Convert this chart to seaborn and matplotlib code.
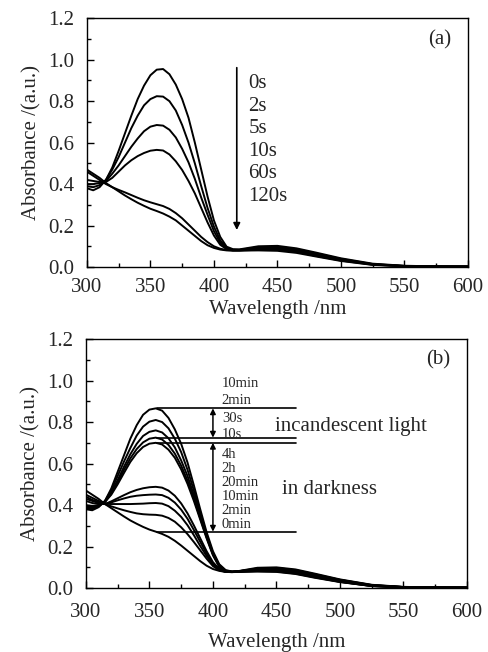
import numpy as np
import pandas as pd
import matplotlib
matplotlib.use('Agg')
import matplotlib.pyplot as plt
import seaborn as sns
from matplotlib.ticker import MultipleLocator, FormatStrFormatter

# wavelength grid (nm)
wl = [300, 305, 310, 315, 320, 325, 330, 335, 340, 345, 350, 355, 360, 365, 370,
      375, 380, 385, 390, 395, 400, 405, 410, 415, 420,
      435, 450, 465, 480, 500, 525, 550, 575, 600]

# ---- panel (a): UV irradiation time ----
a_labels = ['0s', '2s', '5s', '10s', '60s', '120s']
a_0s = [0.38, 0.37, 0.385, 0.42, 0.48, 0.56, 0.645, 0.73, 0.81, 0.875, 0.925, 0.952, 0.955, 0.93, 0.88,
        0.81, 0.72, 0.60, 0.47, 0.34, 0.225, 0.145, 0.098, 0.086, 0.085,
        0.10, 0.102, 0.09, 0.07, 0.042, 0.016, 0.006, 0.003, 0.002]
a_2s = [0.39, 0.385, 0.395, 0.42, 0.47, 0.53, 0.60, 0.67, 0.73, 0.78, 0.81, 0.824, 0.822, 0.80, 0.755,
        0.685, 0.60, 0.50, 0.39, 0.285, 0.195, 0.128, 0.092, 0.083, 0.083,
        0.095, 0.097, 0.086, 0.066, 0.039, 0.014, 0.005, 0.003, 0.002]
a_5s = [0.40, 0.40, 0.405, 0.415, 0.45, 0.49, 0.535, 0.58, 0.62, 0.655, 0.677, 0.685, 0.682, 0.662, 0.625,
        0.57, 0.505, 0.425, 0.335, 0.252, 0.173, 0.117, 0.088, 0.082, 0.082,
        0.09, 0.092, 0.082, 0.062, 0.036, 0.013, 0.005, 0.003, 0.002]
a_10s = [0.42, 0.415, 0.41, 0.41, 0.43, 0.46, 0.49, 0.515, 0.535, 0.55, 0.561, 0.565, 0.562, 0.543, 0.51,
         0.468, 0.415, 0.355, 0.285, 0.215, 0.152, 0.107, 0.086, 0.08, 0.08,
         0.087, 0.088, 0.078, 0.058, 0.034, 0.012, 0.004, 0.002, 0.002]
a_60s = [0.46, 0.44, 0.42, 0.40, 0.385, 0.372, 0.36, 0.347, 0.334, 0.322, 0.312, 0.303, 0.294, 0.28, 0.26,
         0.235, 0.205, 0.175, 0.145, 0.12, 0.10, 0.088, 0.082, 0.08, 0.08,
         0.083, 0.083, 0.073, 0.054, 0.031, 0.011, 0.004, 0.002, 0.002]
a_120s = [0.47, 0.45, 0.43, 0.405, 0.385, 0.365, 0.345, 0.327, 0.31, 0.295, 0.281, 0.27, 0.258, 0.243, 0.225,
          0.20, 0.175, 0.15, 0.125, 0.105, 0.092, 0.084, 0.08, 0.079, 0.079,
          0.08, 0.078, 0.068, 0.051, 0.029, 0.01, 0.004, 0.002, 0.002]

# ---- panel (b): incandescent light then darkness ----
b_light_labels = ['10min', '2min', '30s', '10s']
b_dark_labels = ['4h', '2h', '20min', '10min', '2min', '0min']
L10min = [0.38, 0.375, 0.39, 0.42, 0.48, 0.56, 0.64, 0.72, 0.785, 0.835, 0.86, 0.866, 0.855, 0.82, 0.765,
          0.695, 0.605, 0.495, 0.38, 0.27, 0.178, 0.115, 0.087, 0.08, 0.082,
          0.098, 0.10, 0.09, 0.07, 0.042, 0.016, 0.006, 0.003, 0.002]
L2min = [0.385, 0.38, 0.393, 0.42, 0.47, 0.54, 0.61, 0.675, 0.735, 0.778, 0.802, 0.81, 0.80, 0.77, 0.72,
         0.655, 0.57, 0.47, 0.362, 0.258, 0.17, 0.11, 0.084, 0.079, 0.081,
         0.095, 0.097, 0.087, 0.067, 0.04, 0.015, 0.005, 0.003, 0.002]
L30s = [0.39, 0.385, 0.395, 0.415, 0.46, 0.52, 0.585, 0.645, 0.695, 0.733, 0.753, 0.76, 0.75, 0.722, 0.678,
        0.615, 0.54, 0.448, 0.347, 0.25, 0.165, 0.106, 0.083, 0.079, 0.081,
        0.093, 0.095, 0.085, 0.065, 0.039, 0.014, 0.005, 0.003, 0.002]
L10s = [0.395, 0.39, 0.398, 0.415, 0.455, 0.51, 0.57, 0.625, 0.67, 0.702, 0.72, 0.725, 0.716, 0.69, 0.648,
        0.59, 0.518, 0.432, 0.337, 0.245, 0.162, 0.104, 0.082, 0.079, 0.081,
        0.091, 0.093, 0.083, 0.063, 0.037, 0.013, 0.005, 0.003, 0.002]
D4h = [0.40, 0.395, 0.40, 0.415, 0.45, 0.50, 0.555, 0.608, 0.65, 0.68, 0.696, 0.70, 0.692, 0.667, 0.628,
       0.572, 0.502, 0.42, 0.33, 0.24, 0.158, 0.102, 0.081, 0.078, 0.08,
       0.09, 0.092, 0.082, 0.062, 0.036, 0.013, 0.005, 0.003, 0.002]
D2h = [0.42, 0.41, 0.405, 0.405, 0.418, 0.433, 0.448, 0.462, 0.473, 0.481, 0.486, 0.488, 0.484, 0.47, 0.445,
       0.408, 0.36, 0.302, 0.24, 0.178, 0.125, 0.092, 0.08, 0.078, 0.08,
       0.087, 0.088, 0.078, 0.058, 0.034, 0.012, 0.004, 0.002, 0.002]
D20min = [0.43, 0.42, 0.41, 0.405, 0.413, 0.423, 0.432, 0.44, 0.445, 0.448, 0.45, 0.451, 0.448, 0.435, 0.412,
          0.378, 0.334, 0.28, 0.223, 0.167, 0.119, 0.09, 0.079, 0.078, 0.08,
          0.085, 0.085, 0.075, 0.056, 0.032, 0.011, 0.004, 0.002, 0.002]
D10min = [0.44, 0.425, 0.415, 0.407, 0.405, 0.405, 0.405, 0.405, 0.406, 0.407, 0.409, 0.41, 0.407, 0.395, 0.373,
          0.343, 0.303, 0.255, 0.203, 0.155, 0.113, 0.088, 0.079, 0.078, 0.079,
          0.083, 0.082, 0.072, 0.054, 0.031, 0.01, 0.004, 0.002, 0.002]
D2min = [0.45, 0.435, 0.42, 0.405, 0.394, 0.384, 0.375, 0.367, 0.36, 0.356, 0.354, 0.353, 0.349, 0.338, 0.32,
         0.293, 0.26, 0.222, 0.182, 0.142, 0.106, 0.086, 0.078, 0.077, 0.079,
         0.081, 0.08, 0.07, 0.052, 0.03, 0.01, 0.004, 0.002, 0.002]
D0min = [0.47, 0.45, 0.43, 0.405, 0.385, 0.365, 0.345, 0.326, 0.31, 0.295, 0.282, 0.272, 0.261, 0.247, 0.228,
         0.205, 0.18, 0.155, 0.13, 0.108, 0.092, 0.083, 0.078, 0.077, 0.078,
         0.08, 0.078, 0.068, 0.05, 0.029, 0.01, 0.004, 0.002, 0.002]


def to_long(curves, names):
    frames = []
    for name, vals in zip(names, curves):
        frames.append(pd.DataFrame({'wl': wl, 'A': vals, 'curve': name}))
    return pd.concat(frames, ignore_index=True)


df_a = to_long([a_0s, a_2s, a_5s, a_10s, a_60s, a_120s], a_labels)
df_b = to_long([L10min, L2min, L30s, L10s, D4h, D2h, D20min, D10min, D2min, D0min],
               ['L' + s for s in b_light_labels] + ['D' + s for s in b_dark_labels])

sns.set_style('ticks')
plt.rcParams['font.family'] = ['Liberation Serif', 'DejaVu Serif']

fig = plt.figure(figsize=(4.88, 6.52), dpi=100)
ax1 = fig.add_axes([0.178, 0.5905, 0.781, 0.3815])
ax2 = fig.add_axes([0.176, 0.098, 0.781, 0.382])

for ax, df, xpad, lpad in [(ax1, df_a, 8, 2), (ax2, df_b, 11, 8)]:
    sns.lineplot(data=df, x='wl', y='A', units='curve', estimator=None,
                 color='black', lw=1.4, ax=ax, legend=False)
    ax.set_xlim(300, 600)
    ax.set_ylim(0, 1.2)
    ax.xaxis.set_major_locator(MultipleLocator(50))
    ax.xaxis.set_minor_locator(MultipleLocator(25))
    ax.yaxis.set_major_locator(MultipleLocator(0.2))
    ax.yaxis.set_minor_locator(MultipleLocator(0.1))
    ax.yaxis.set_major_formatter(FormatStrFormatter('%.1f'))
    ax.tick_params(which='both', direction='in', labelsize=15, color='black')
    ax.tick_params(which='major', length=5, width=1)
    ax.tick_params(which='minor', length=3, width=1)
    ax.tick_params(axis='x', which='major', pad=xpad)
    ax.tick_params(axis='y', which='major', pad=9)
    for sp in ax.spines.values():
        sp.set_linewidth(1.0)
        sp.set_color('black')
    ax.set_xlabel('Wavelength /nm', fontsize=15, labelpad=lpad)
    ax.set_ylabel('Absorbance /(a.u.)', fontsize=15, labelpad=5)

# panel (a) annotations
ax1.text(0.925, 0.915, '(a)', transform=ax1.transAxes, fontsize=15, ha='center', va='center')
ax1.annotate('', xy=(418, 0.165), xytext=(418, 0.975),
             arrowprops=dict(arrowstyle='-|>', color='black', lw=1.2, mutation_scale=10))
a_label_y = [0.884, 0.774, 0.667, 0.559, 0.453, 0.341]
for lab, y in zip(a_labels, a_label_y):
    ax1.text(427, y, lab, fontsize=15, ha='left', va='center')

# panel (b) annotations
ax2.text(0.925, 0.915, '(b)', transform=ax2.transAxes, fontsize=15, ha='center', va='center')
i355 = wl.index(355)
levels = [max(L10min), max(L10s), max(D4h), D0min[i355]]
for lv in levels:
    ax2.plot([356, 465], [lv, lv], color='black', lw=1.2)
ax2.annotate('', xy=(400, levels[0]), xytext=(400, levels[1]),
             arrowprops=dict(arrowstyle='<|-|>', color='black', lw=1.1, mutation_scale=8,
                             shrinkA=0, shrinkB=0))
ax2.annotate('', xy=(400, levels[2]), xytext=(400, levels[3]),
             arrowprops=dict(arrowstyle='<|-|>', color='black', lw=1.1, mutation_scale=8,
                             shrinkA=0, shrinkB=0))
b_light_y = [0.985, 0.905, 0.815, 0.738]
for lab, y in zip(b_light_labels, b_light_y):
    ax2.text(407, y, lab, fontsize=10.5, ha='left', va='center')
b_dark_y = [0.645, 0.578, 0.509, 0.442, 0.374, 0.306]
for lab, y in zip(b_dark_labels, b_dark_y):
    ax2.text(407, y, lab, fontsize=10.5, ha='left', va='center')
ax2.text(448.5, 0.78, 'incandescent light', fontsize=15, ha='left', va='center')
ax2.text(454.5, 0.477, 'in darkness', fontsize=15, ha='left', va='center')

fig.savefig('out.png', dpi=100)
